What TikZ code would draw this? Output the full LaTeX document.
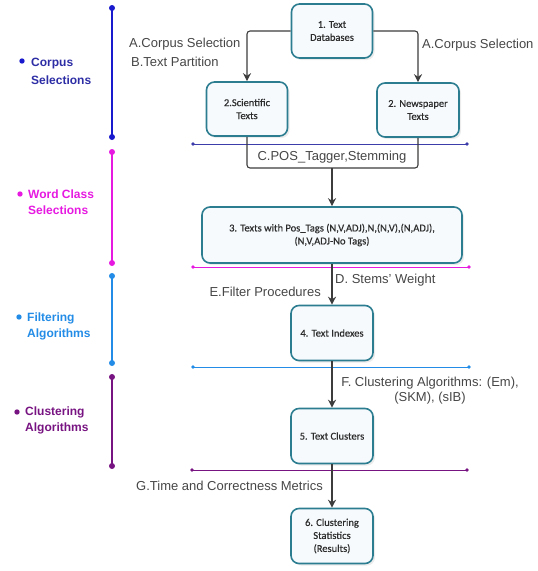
\documentclass[tikz,border=0pt]{standalone}
\usepackage{fontspec}
\setmainfont{Liberation Sans}
\newfontfamily\boxfont[FakeBold=0.5]{Carlito}
\usetikzlibrary{arrows.meta,shadows,positioning}

\definecolor{boxteal}{RGB}{45,125,145}
\definecolor{boxfill}{RGB}{246,250,253}
\definecolor{boxtext}{RGB}{45,45,45}
\definecolor{linegray}{RGB}{60,60,60}
\definecolor{labgray}{RGB}{70,70,70}
\definecolor{corpusblue}{RGB}{25,25,205}
\definecolor{corpustext}{RGB}{45,45,165}
\definecolor{corpusline}{RGB}{60,60,170}
\definecolor{wordmag}{RGB}{230,25,225}
\definecolor{filterblue}{RGB}{35,140,230}
\definecolor{clusterpurple}{RGB}{120,20,130}

\begin{document}
\begin{tikzpicture}[
        x=1pt, y=-1pt, % pixel-like grid, y runs downwards
        stagebox/.style={draw=boxteal, line width=1.6pt, rounded corners=8pt, fill=boxfill,
            align=center, text=boxtext, font=\boxfont\fontsize{10.5}{13}\selectfont,
            minimum width=81pt, minimum height=54pt, inner sep=2pt,
            drop shadow={shadow xshift=2pt, shadow yshift=-2pt, opacity=0.25, fill=gray!60}},
        flow/.style={draw=linegray, line width=1.1pt, -{Stealth[length=8pt,width=8pt]}},
        steplabel/.style={text=labgray, inner sep=0pt, font=\fontsize{13}{15}\selectfont},
        phasebar/.style={line width=2.4pt},
        phasesep/.style={line width=0.8pt},
        phasetext/.style={anchor=west, align=left, inner sep=0pt, font=\bfseries\fontsize{12}{16}\selectfont}
    ]
    \useasboundingbox (0,0) rectangle (538,571);

    % Phases on the left
    \draw[phasebar, corpusblue] (112,8) -- (112,137);
    \fill[corpusblue] (112,8) circle (3pt) (112,137) circle (3pt);
    \draw[phasebar, wordmag] (112,152) -- (112,263);
    \fill[wordmag] (112,152) circle (3pt) (112,263) circle (3pt);
    \draw[phasebar, filterblue] (112,276) -- (112,363);
    \fill[filterblue] (112,276) circle (3pt) (112,363) circle (3pt);
    \draw[phasebar, clusterpurple] (112,377) -- (112,466);
    \fill[clusterpurple] (112,377) circle (3pt) (112,466) circle (3pt);

    \fill[corpusblue] (22,61) circle (2.7pt);
    \node[phasetext, text=corpustext, font=\bfseries\fontsize{12}{18}\selectfont] (corpus) at (31,71) {Corpus\\Selections};
    \fill[wordmag] (20,194) circle (2.7pt);
    \node[phasetext, text=wordmag] (wordcl) at (28,202) {Word Class\\Selections};
    \fill[filterblue] (19,317) circle (2.7pt);
    \node[phasetext, text=filterblue] (filter) at (27,326) {Filtering\\Algorithms};
    \fill[clusterpurple] (17,412) circle (2.7pt);
    \node[phasetext, text=clusterpurple] (cluster) at (25,420) {Clustering\\Algorithms};

    % Separators
    \draw[phasesep, corpusline] (193,144) -- (467,144);
    \fill[corpusline] (193,144) circle (1.8pt) (467,144) circle (1.8pt);
    \draw[phasesep, wordmag] (193,267) -- (469,267);
    \fill[wordmag] (193,267) circle (1.8pt) (469,267) circle (1.8pt);
    \draw[phasesep, filterblue] (193,367) -- (469,367);
    \fill[filterblue] (193,367) circle (1.8pt) (469,367) circle (1.8pt);
    \draw[phasesep, clusterpurple] (192,470) -- (467,470);
    \fill[clusterpurple] (192,470) circle (1.8pt) (467,470) circle (1.8pt);

    % Stages
    \node[stagebox] (db) at (332,31) {1. Text\\Databases};
    \node[stagebox] (sci) at (247,109) {2.Scientific\\Texts};
    \node[stagebox, minimum width=82pt] (news) at (418,110) {2. Newspaper\\Texts};
    \node[stagebox, minimum width=260pt, minimum height=56pt] (tags) at (332,235)
        {3. Texts with Pos\_Tags (N,V,ADJ),N,(N,V),(N,ADJ),\\(N,V,ADJ-No Tags)};
    \node[stagebox, minimum width=82pt, minimum height=55pt] (idx) at (332,333) {4. Text Indexes};
    \node[stagebox, minimum width=82pt, minimum height=55pt] (clu) at (332,436) {5. Text Clusters};
    \node[stagebox, minimum width=82pt, minimum height=55pt] (stat) at (332,536) {6. Clustering\\Statistics\\(Results)};

    % Connectors
    \draw[flow, rounded corners=3pt] (db.west) -| (sci.north);
    \draw[flow, rounded corners=3pt] (db.east) -| (news.north);
    \coordinate (join) at (332,168);
    \draw[draw=linegray, line width=1.1pt, rounded corners=3pt] (sci.south) |- (join) -| (news.south);
    \draw[flow] (join) -- (tags.north);
    \draw[flow] (tags.south) -- (idx.north);
    \draw[flow] (idx.south) -- (clu.north);
    \draw[flow] (clu.south) -- (stat.north);

    % Step labels
    \node[steplabel, anchor=west, align=left, font=\fontsize{13}{19}\selectfont] (lblAB) at (129,52.5)
        {A.Corpus Selection\\\hspace{2pt}B.Text Partition};
    \node[steplabel, anchor=west] (lblA) at (422,45) {A.Corpus Selection};
    \node[steplabel] (lblC) at (332,157) {C.POS\_Tagger,Stemming};
    \node[steplabel, anchor=west] (lblD) at (335,280) {D. Stems' Weight};
    \node[steplabel, anchor=east] (lblE) at (321,292) {E.Filter Procedures};
    \node[steplabel, align=center] (lblF) at (430,390.5) {F. Clustering Algorithms: (Em),\\(SKM), (sIB)};
    \node[steplabel, anchor=east] (lblG) at (323,486) {G.Time and Correctness Metrics};
\end{tikzpicture}
\end{document}
